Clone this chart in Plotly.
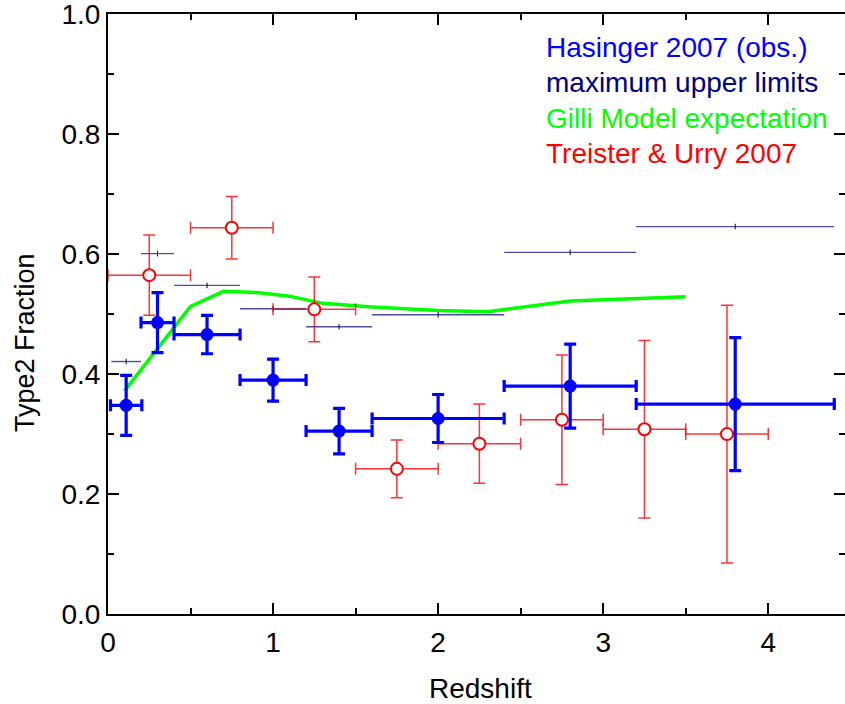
import plotly.graph_objects as go

# ---- data ----
# Hasinger 2007 (obs.)
has_z = [0.11, 0.3, 0.6, 1.0, 1.4, 2.0, 2.8, 3.8]
has_dz = [0.095, 0.1, 0.2, 0.2, 0.2, 0.4, 0.4, 0.6]
has_f = [0.348, 0.486, 0.466, 0.390, 0.305, 0.326, 0.380, 0.350]
has_df = [0.050, 0.050, 0.032, 0.035, 0.038, 0.040, 0.070, 0.111]

# maximum upper limits
lim_z = [0.11, 0.3, 0.6, 1.0, 1.4, 2.0, 2.8, 3.8]
lim_dz = [0.09, 0.1, 0.2, 0.2, 0.2, 0.4, 0.4, 0.6]
lim_f = [0.421, 0.601, 0.548, 0.509, 0.479, 0.499, 0.603, 0.646]

# Gilli model expectation
gilli_z = [0.1, 0.5, 0.7, 0.9, 1.1, 1.3, 1.6, 2.0, 2.3, 2.8, 3.5]
gilli_f = [0.372, 0.513, 0.538, 0.536, 0.530, 0.518, 0.512, 0.506, 0.504, 0.522, 0.529]

# Treister & Urry 2007
tu_z = [0.25, 0.75, 1.25, 1.75, 2.25, 2.75, 3.25, 3.75]
tu_dz = [0.25] * 8
tu_f = [0.565, 0.644, 0.508, 0.242, 0.284, 0.324, 0.308, 0.300]
tu_df = [0.067, 0.052, 0.054, 0.048, 0.066, 0.108, 0.148, 0.215]

legend_items = ["Hasinger 2007 (obs.)", "maximum upper limits",
                "Gilli Model expectation", "Treister & Urry 2007"]
legend_colors = ["#0000ff", "#000080", "#00ff00", "#ff0000"]

x_ticks = [0, 1, 2, 3, 4]
x_ticktext = ["0", "1", "2", "3", "4"]
y_ticks = [0, 0.2, 0.4, 0.6, 0.8, 1.0]
y_ticktext = ["0.0", "0.2", "0.4", "0.6", "0.8", "1.0"]

FONT = "Liberation Sans, Arial, sans-serif"

fig = go.Figure()

# upper limits: horizontal bars with small centre tick
fig.add_trace(go.Scatter(
    x=lim_z, y=lim_f, mode="markers",
    marker=dict(symbol="line-ns", size=4, color="#000040",
                line=dict(width=1, color="#000040")),
    error_x=dict(type="data", array=lim_dz, color="rgba(0,0,128,0.7)",
                 thickness=1.4, width=0),
    showlegend=False, hoverinfo="skip"))

# Gilli model
fig.add_trace(go.Scatter(
    x=gilli_z, y=gilli_f, mode="lines",
    line=dict(color="#00ff00", width=3.5), showlegend=False))

# Treister & Urry
fig.add_trace(go.Scatter(
    x=tu_z, y=tu_f, mode="markers",
    marker=dict(symbol="circle", size=12, color="white",
                line=dict(width=2, color="#ff0000")),
    error_x=dict(type="data", array=tu_dz, color="rgba(255,0,0,0.8)",
                 thickness=1.5, width=6),
    error_y=dict(type="data", array=tu_df, color="rgba(255,0,0,0.8)",
                 thickness=1.5, width=6),
    showlegend=False))

# Hasinger
fig.add_trace(go.Scatter(
    x=has_z, y=has_f, mode="markers",
    marker=dict(symbol="circle", size=13, color="#0000ff"),
    error_x=dict(type="data", array=has_dz, color="#0000ff",
                 thickness=3.2, width=6),
    error_y=dict(type="data", array=has_df, color="#0000ff",
                 thickness=3.2, width=6),
    showlegend=False))

# legend as coloured text
leg_y = [0.944, 0.886, 0.826, 0.767]
for txt, col, yy in zip(legend_items, legend_colors, leg_y):
    fig.add_annotation(x=0.592, y=yy, xref="paper", yref="paper",
                       text=txt, showarrow=False, xanchor="left",
                       yanchor="middle",
                       font=dict(family=FONT, size=28, color=col))

# axis titles
fig.add_annotation(x=(480 - 108) / 737, y=(614 - 688) / 600,
                   xref="paper", yref="paper", text="Redshift",
                   showarrow=False, xanchor="center", yanchor="middle",
                   font=dict(family=FONT, size=28, color="black"))
fig.add_annotation(x=(25 - 108) / 737, y=(614 - 343) / 600,
                   xref="paper", yref="paper", text="Type2 Fraction",
                   textangle=-90, showarrow=False, xanchor="center",
                   yanchor="middle",
                   font=dict(family=FONT, size=27, color="black"))

axis_common = dict(
    showline=True, linecolor="black", linewidth=2, mirror="ticks",
    ticks="inside", ticklen=11, tickwidth=2, tickcolor="black",
    showgrid=False, zeroline=False, automargin=False,
    ticklabeloverflow="allow",
    tickfont=dict(family=FONT, size=28, color="black"),
)

fig.update_xaxes(range=[0, 4.465], tickvals=x_ticks, ticktext=x_ticktext,
                 ticklabelstandoff=2,
                 minor=dict(dtick=0.5, tick0=0, ticks="inside", ticklen=6,
                            tickwidth=2, tickcolor="black"),
                 **axis_common)
fig.update_yaxes(range=[0, 1.0005], tickvals=y_ticks, ticktext=y_ticktext,
                 minor=dict(dtick=0.1, tick0=0, ticks="inside", ticklen=6,
                            tickwidth=2, tickcolor="black"),
                 **axis_common)

fig.update_layout(
    width=845, height=704,
    margin=dict(l=108, r=0, t=14, b=90, autoexpand=False),
    paper_bgcolor="white", plot_bgcolor="white",
    showlegend=False,
)

# remove the default page margin so the figure fills the window exactly
fig.write_html("out.html",
               config={"displayModeBar": False},
               post_script="document.body.style.margin='0';"
                           "document.body.style.overflow='hidden';")
